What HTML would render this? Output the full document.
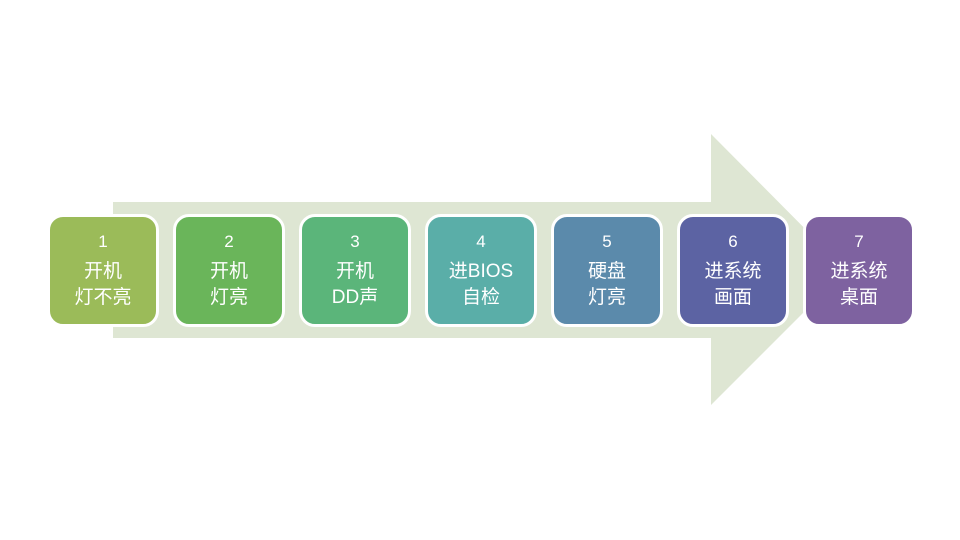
<!DOCTYPE html>
<html><head><meta charset="utf-8"><style>
body{margin:0;width:960px;height:540px;background:#fff;position:relative;overflow:hidden;font-family:"Liberation Sans","Noto Sans CJK SC",sans-serif}
.b{position:absolute;top:214px;width:106px;height:107px;border:3px solid #fff;border-radius:16px;color:#fff;text-align:center;font-size:19px;line-height:26px;box-sizing:content-box}
.b div:first-child{margin-top:12px;margin-bottom:4px;font-size:17px}
</style></head><body>
<svg width="960" height="540" style="position:absolute;left:0;top:0">
<polygon points="113,202 711,202 711,134 846,270 711,405 711,338 113,338" fill="#dee6d3"/>
</svg>
<div class="b" style="left:47px;background:#9bbb59"><div>1</div><div>开机<br>灯不亮</div></div>
<div class="b" style="left:173px;background:#6ab55a"><div>2</div><div>开机<br>灯亮</div></div>
<div class="b" style="left:299px;background:#5bb57a"><div>3</div><div>开机<br>DD声</div></div>
<div class="b" style="left:425px;background:#5aaea8"><div>4</div><div>进BIOS<br>自检</div></div>
<div class="b" style="left:551px;background:#5b8aab"><div>5</div><div>硬盘<br>灯亮</div></div>
<div class="b" style="left:677px;background:#5c63a3"><div>6</div><div>进系统<br>画面</div></div>
<div class="b" style="left:803px;background:#7e62a0"><div>7</div><div>进系统<br>桌面</div></div>
</body></html>
